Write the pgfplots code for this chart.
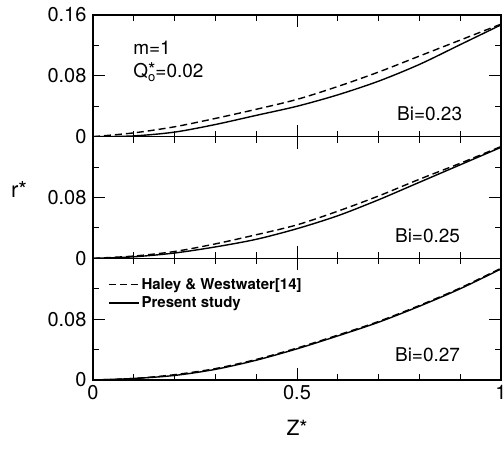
\documentclass[border=0pt]{standalone}
\usepackage{pgfplots}
\pgfplotsset{compat=1.18}
\usepackage{pgfplotstable}
\usepackage{fontspec}
\setmainfont{TeX Gyre Heros}
\pgfplotstableread{
x    s1     d1     s2     d2     s3     d3
0    0      0      0      0      0      0
0.1  0.001  0.005  0.002  0.003  0.002  0.002
0.2  0.006  0.013  0.007  0.009  0.006  0.007
0.3  0.016  0.024  0.015  0.019  0.014  0.015
0.4  0.028  0.036  0.025  0.031  0.026  0.027
0.5  0.040  0.049  0.039  0.044  0.041  0.042
0.6  0.055  0.066  0.056  0.062  0.058  0.059
0.7  0.073  0.085  0.077  0.082  0.076  0.077
0.8  0.095  0.106  0.100  0.104  0.097  0.098
0.9  0.121  0.127  0.123  0.125  0.120  0.121
1.0  0.147  0.148  0.146  0.147  0.146  0.147
}\data
\pgfplotsset{
  panel/.style={
    scale only axis, width=408pt, height=121.67pt,
    xmin=0, xmax=1, ymin=0, ymax=0.16,
    xtick={0,0.5,1}, minor xtick={0.1,0.2,0.3,0.4,0.6,0.7,0.8,0.9},
    ytick={0,0.08}, minor ytick={0.04,0.12},
    xtick pos=both, ytick pos=both, tick align=inside,
    major tick length=12pt, minor tick length=6pt,
    axis line style={line width=1.3pt},
    every tick/.style={line width=1pt, black},
    /pgf/number format/assume math mode=true,
    /pgf/number format/fixed,
    tick label style={font=\fontsize{20}{22}\selectfont},
    yticklabel style={xshift=-3pt},
    xticklabel style={yshift=-2pt},
  },
  crv/.style={line width=1.4pt, black, smooth, no marks},
  sld/.style={crv, solid},
  dsh/.style={crv, dash pattern=on 7pt off 4pt},
}
\begin{document}
\begin{tikzpicture}
\begin{axis}[panel, name=bot, at={(0,0)}, anchor=south west,
  legend style={at={(0.03,0.87)}, anchor=north west, draw=none, fill=none,
    font=\fontsize{15}{18}\selectfont\bfseries, row sep=2pt},
  legend cell align=left,
  legend image code/.code={\draw[#1, line width=1.1pt] (0pt,0pt) -- (30pt,0pt);}]
\addplot[dsh] table[x=x,y=d3]{\data};
\addlegendentry{Haley \& Westwater[14]}
\addplot[sld] table[x=x,y=s3]{\data};
\addlegendentry{Present study}
\node[font=\fontsize{19}{22}\selectfont] at (axis cs:0.82,0.033) {Bi=0.27};
\end{axis}
\begin{axis}[panel, name=mid, at={(0,121.67pt)}, anchor=south west, xticklabels={}]
\addplot[dsh] table[x=x,y=d2]{\data};
\addplot[sld] table[x=x,y=s2]{\data};
\node[font=\fontsize{19}{22}\selectfont] at (axis cs:0.82,0.0295) {Bi=0.25};
\end{axis}
\begin{axis}[panel, name=top, at={(0,243.33pt)}, anchor=south west, xticklabels={},
  ytick={0,0.08,0.16}]
\addplot[dsh] table[x=x,y=d1]{\data};
\addplot[sld] table[x=x,y=s1]{\data};
\node[font=\fontsize{19}{22}\selectfont] at (axis cs:0.825,0.030) {Bi=0.23};
\node[font=\fontsize{19}{22}\selectfont, anchor=west] at (axis cs:0.09,0.117) {m=1};
\node[font=\fontsize{19}{22}\selectfont, anchor=west] at (axis cs:0.09,0.085) {Q\rlap{\raisebox{-0.45ex}{\fontsize{13}{13}\selectfont o}}\raisebox{0.1ex}{*}=0.02};
\end{axis}
\node[font=\fontsize{22}{24}\selectfont] at ([xshift=-74pt,yshift=69pt]mid.south west) {r*};
\node[font=\fontsize{21}{24}\selectfont] at ([xshift=204pt,yshift=-48pt]bot.south west) {Z*};
\pgfresetboundingbox
\useasboundingbox ([xshift=-93pt,yshift=-68pt]bot.south west) rectangle ++(503pt,448pt);
\end{tikzpicture}
\end{document}
